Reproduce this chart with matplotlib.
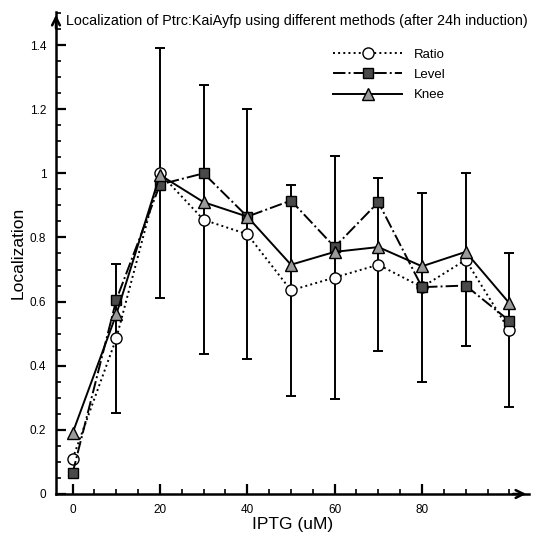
#!/usr/bin/env python3
# -*- coding: utf-8 -*-
"""
Ptrc:KaiAyfp 定位 - 三种方法比较 (24h 诱导后)
"""

import numpy as np
import matplotlib
matplotlib.use('Agg')
import matplotlib.pyplot as plt
from matplotlib.ticker import MultipleLocator

plt.rcParams['font.family'] = ['Liberation Sans', 'DejaVu Sans']

# 数据
iptg = [0, 10, 20, 30, 40, 50, 60, 70, 80, 90, 100]
ratio = [0.11, 0.485, 1.0, 0.855, 0.81, 0.635, 0.675, 0.715, 0.645, 0.73, 0.51]
level = [0.065, 0.605, 0.965, 1.0, 0.865, 0.915, 0.77, 0.91, 0.645, 0.65, 0.54]
knee = [0.19, 0.56, 0.995, 0.91, 0.865, 0.715, 0.755, 0.77, 0.71, 0.755, 0.595]
ratio_err = [np.nan, 0.233, 0.39, 0.42, 0.39, 0.33, 0.38, 0.27, 0.295, 0.27, 0.24]

xticks = [0, 20, 40, 60, 80]
yticks = [0, 0.2, 0.4, 0.6, 0.8, 1.0, 1.2, 1.4]
ytick_labels = ['0', '0.2', '0.4', '0.6', '0.8', '1', '1.2', '1.4']

title = 'Localization of Ptrc:KaiAyfp using different methods (after 24h induction)'

W = 538
fig = plt.figure(figsize=(W / 100, W / 100), dpi=100)
ax = fig.add_axes([56 / W, 1 - 494 / W, (529 - 56) / W, (494 - 12) / W])

# 误差棒 (以 Ratio 为中心)
ax.errorbar(iptg, ratio, yerr=ratio_err, fmt='none', ecolor='black',
            elinewidth=1.4, capsize=3.8, capthick=1.4, zorder=1)

ax.plot(iptg, ratio, linestyle=':', color='black', lw=1.4,
        marker='o', ms=8, mfc='white', mec='black', mew=1.0,
        label='Ratio', zorder=2)
ax.plot(iptg, level, linestyle='-.', color='black', lw=1.4,
        marker='s', ms=7, mfc='#4a4a4a', mec='black', mew=1.0,
        label='Level', zorder=3)
ax.plot(iptg, knee, linestyle='-', color='black', lw=1.4,
        marker='^', ms=8, mfc='#9a9a9a', mec='black', mew=1.0,
        label='Knee', zorder=4)

ax.set_xlim(-3.8, 104.5)
ax.set_ylim(0, 1.503)

ax.set_xticks(xticks)
ax.set_yticks(yticks)
ax.set_yticklabels(ytick_labels)
ax.xaxis.set_minor_locator(MultipleLocator(5))
ax.yaxis.set_minor_locator(MultipleLocator(0.05))
ax.tick_params(which='major', direction='in', length=7, width=1.6,
               labelsize=8.5, pad=7)
ax.tick_params(which='minor', direction='in', length=3.5, width=1.2)
ax.tick_params(axis='x', which='both', top=False)
ax.tick_params(axis='y', which='both', right=False)

for side in ['top', 'right']:
    ax.spines[side].set_visible(False)
for side in ['left', 'bottom']:
    ax.spines[side].set_linewidth(1.8)

# 坐标轴箭头
ax.annotate('', xy=(1.0, 0), xytext=(0.96, 0), xycoords='axes fraction',
            arrowprops=dict(arrowstyle='->', lw=1.8, color='black',
                            mutation_scale=14))
ax.annotate('', xy=(0, 1.0), xytext=(0, 0.96), xycoords='axes fraction',
            arrowprops=dict(arrowstyle='->', lw=1.8, color='black',
                            mutation_scale=14))

ax.set_xlabel('IPTG (uM)', fontsize=12.5, labelpad=1)
ax.set_ylabel('Localization', fontsize=12.5, labelpad=3)

fig.text(66 / W, 1 - 21 / W, title, fontsize=10.4, ha='left', va='center')

ax.legend(loc='upper left', bbox_to_anchor=(0.575, 0.935), frameon=False,
          fontsize=9.5, handlelength=5.2, handletextpad=0.9,
          labelspacing=0.6, borderaxespad=0)

fig.savefig('out.png', dpi=100)
